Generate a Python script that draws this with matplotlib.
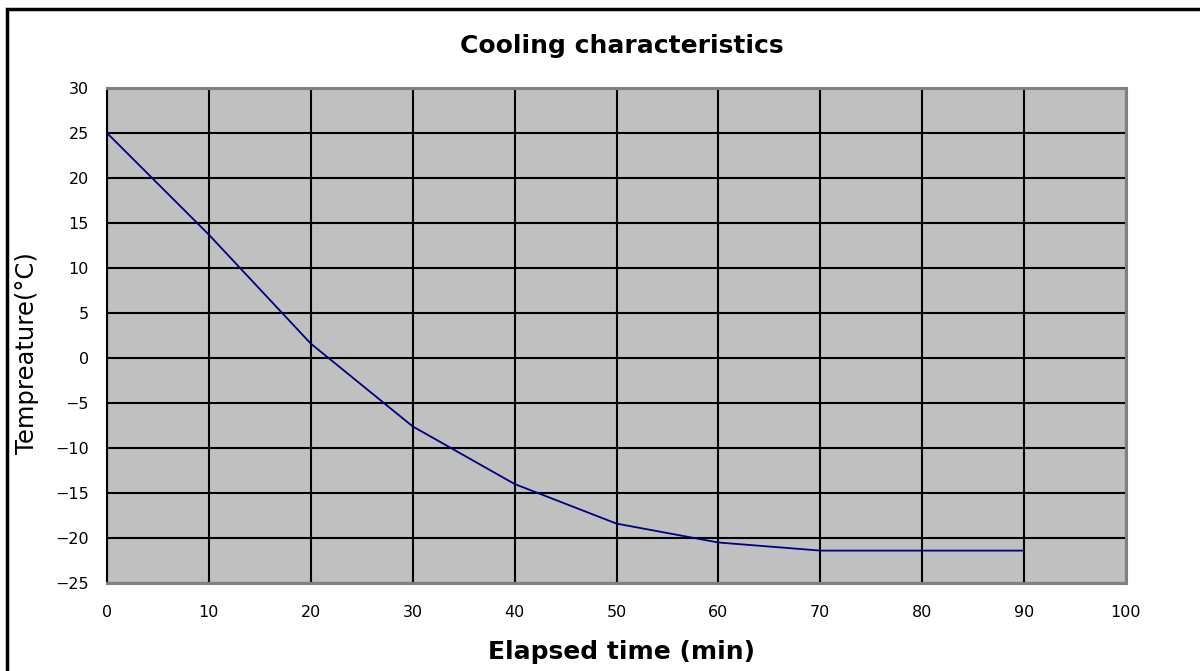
import matplotlib
matplotlib.use('Agg')
import matplotlib.pyplot as plt
from matplotlib.patches import Rectangle

# elapsed time (min) and temperature (deg C)
minutes = [0, 10, 20, 30, 40, 50, 60, 70, 80, 90]
temps = [25, 13.7, 1.6, -7.6, -14.0, -18.4, -20.5, -21.4, -21.4, -21.4]

xticks = list(range(0, 101, 10))
yticks = list(range(-25, 31, 5))

font = ['DejaVu Sans']

fig = plt.figure(figsize=(12, 6.71), dpi=100)
ax = fig.add_axes([107 / 1200, 1 - 583 / 671, (1126 - 107) / 1200, (583 - 88) / 671])

ax.set_facecolor('#c0c0c0')
ax.plot(minutes, temps, color='#000080', lw=1.3, zorder=3)

ax.set_xlim(0, 100)
ax.set_ylim(-25, 30)
ax.set_xticks(xticks)
ax.set_yticks(yticks)
ax.set_xticklabels([str(v) for v in xticks], family=font, fontsize=11.5)
ax.set_yticklabels([str(v).replace('-', '\u2212') for v in yticks], family=font, fontsize=11.5)
ax.tick_params(length=0, pad=13, axis='y')
ax.tick_params(length=0, pad=16, axis='x')

ax.grid(True, color='black', lw=1.5, zorder=1)
ax.set_axisbelow(True)

ax.spines['left'].set_color('black')
ax.spines['left'].set_linewidth(1.5)
for s in ['top', 'right', 'bottom']:
    ax.spines[s].set_color('#808080')
    ax.spines[s].set_linewidth(2.2)

fig.text(622 / 1200, 1 - 46 / 671, 'Cooling characteristics', ha='center', va='center',
         family=font, fontsize=18, fontweight='bold')
fig.text(622 / 1200, 1 - 652 / 671, 'Elapsed time (min)', ha='center', va='center',
         family=font, fontsize=18, fontweight='bold')
fig.text(27 / 1200, 1 - 353 / 671, 'Tempreature(\u00b0C)', ha='center', va='center',
         rotation=90, family=font, fontsize=17.5)

# outer chart border (runs off the right and bottom edges)
fig.patches.append(Rectangle((7 / 1200, -0.05), 1.1, 1 - 9 / 671 + 0.05,
                             transform=fig.transFigure, fill=False,
                             edgecolor='black', lw=2.5))

fig.savefig('out.png', dpi=100)
